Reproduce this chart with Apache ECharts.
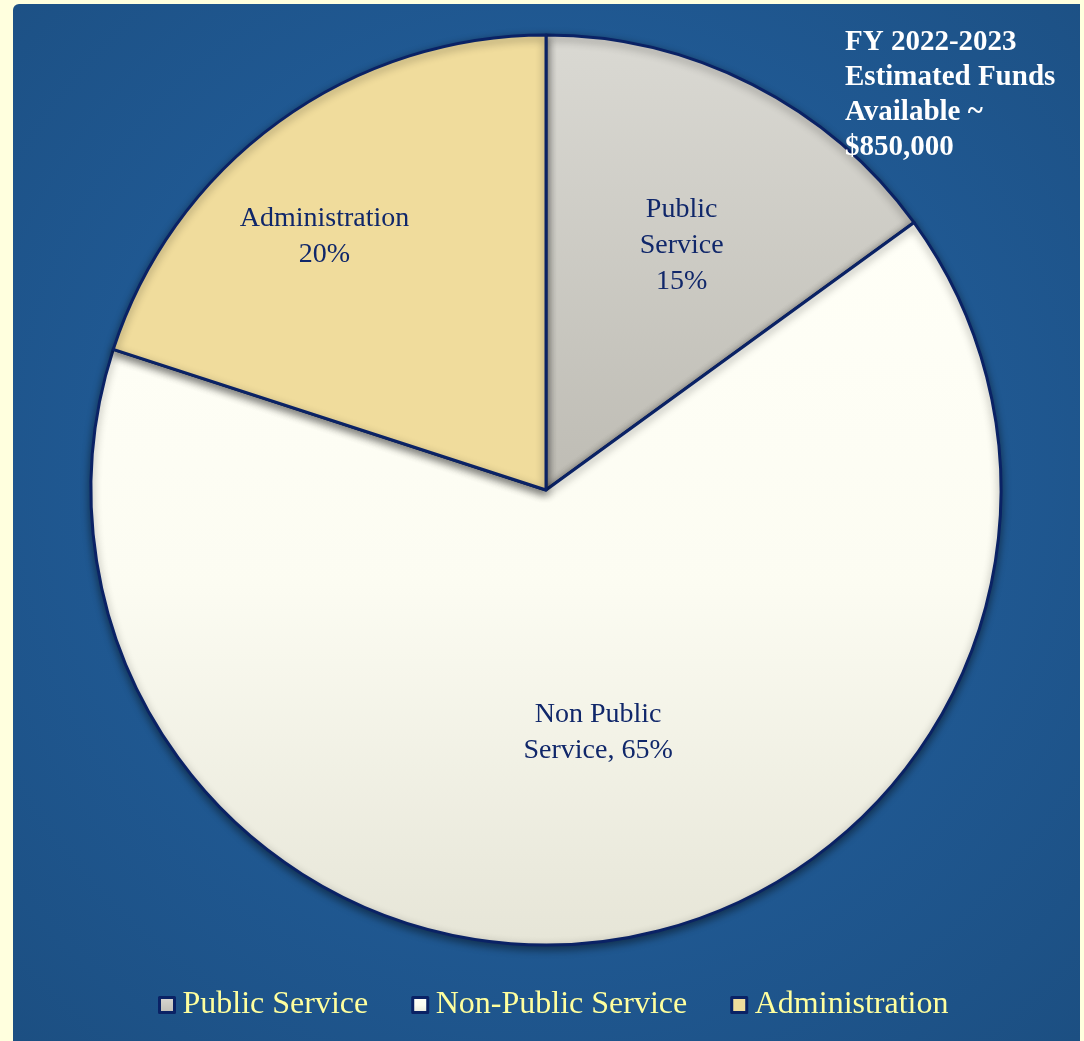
<!DOCTYPE html>
<html>
<head>
<meta charset="utf-8">
<script src="https://cdn.jsdelivr.net/npm/echarts@6/dist/echarts.min.js"></script>
<style>
  html, body { margin: 0; padding: 0; background: #FFFFDE; width: 1084px; height: 1041px; overflow: hidden; }
  #chart {
    position: absolute; left: 13px; top: 4px; width: 1067px; height: 1037px;
    border-top-left-radius: 6px;
    background: radial-gradient(circle at 50% 45%, #2363A2 0%, #215C98 40%, #1C4F82 100%);
  }
</style>
</head>
<body>
<div id="chart"></div>
<script>
const categories = ['Public Service', 'Non-Public Service', 'Administration'];
const values = [15, 65, 20];
const sliceLabels = ['Public\nService\n15%', 'Non Public\nService, 65%', 'Administration\n20%'];
const titleText = 'FY 2022-2023\nEstimated Funds\nAvailable ~\n$850,000';

const fills = [
  { type: 'linear', x: 0, y: 0, x2: 0, y2: 1, colorStops: [{ offset: 0, color: '#DAD9D3' }, { offset: 1, color: '#BEBCB4' }] },
  { type: 'linear', x: 0, y: 0, x2: 0, y2: 1, colorStops: [{ offset: 0, color: '#FFFFF7' }, { offset: 0.5, color: '#FCFCF2' }, { offset: 1, color: '#E6E5D7' }] },
  '#F0DC9C'
];
const labelShift = [[31, -39], [16, 15], [-86, -67]];

const chart = echarts.init(document.getElementById('chart'));
chart.setOption({
  animation: false,
  title: {
    text: titleText,
    left: 832,
    top: 21,
    padding: 0,
    textStyle: { color: '#FFFFFF', fontFamily: 'Liberation Serif', fontWeight: 'bold', fontSize: 29, lineHeight: 35 }
  },
  legend: {
    data: categories,
    left: 140,
    top: 980,
    icon: 'rect',
    itemWidth: 15,
    itemHeight: 15,
    itemGap: 43,
    textStyle: { color: '#FFFF9E', fontFamily: 'Liberation Serif', fontSize: 32, padding: [0, 0, 0, 3] },
    itemStyle: { borderColor: '#0A2265', borderWidth: 3 }
  },
  series: [{
    type: 'pie',
    center: [533, 486],
    radius: [0, 455],
    startAngle: 90,
    clockwise: true,
    avoidLabelOverlap: false,
    itemStyle: { borderColor: '#0A2265', borderWidth: 3, shadowBlur: 8, shadowColor: 'rgba(0,0,0,0.45)', shadowOffsetY: 3 },
    label: {
      position: 'inside',
      color: '#10276A',
      fontFamily: 'Liberation Serif',
      fontSize: 28,
      lineHeight: 36,
      formatter: p => sliceLabels[p.dataIndex]
    },
    labelLine: { show: false },
    labelLayout: p => ({ dx: labelShift[p.dataIndex][0], dy: labelShift[p.dataIndex][1] }),
    emphasis: { disabled: true },
    data: categories.map((c, i) => ({ name: c, value: values[i], itemStyle: { color: fills[i] } }))
  }]
});
</script>
</body>
</html>
